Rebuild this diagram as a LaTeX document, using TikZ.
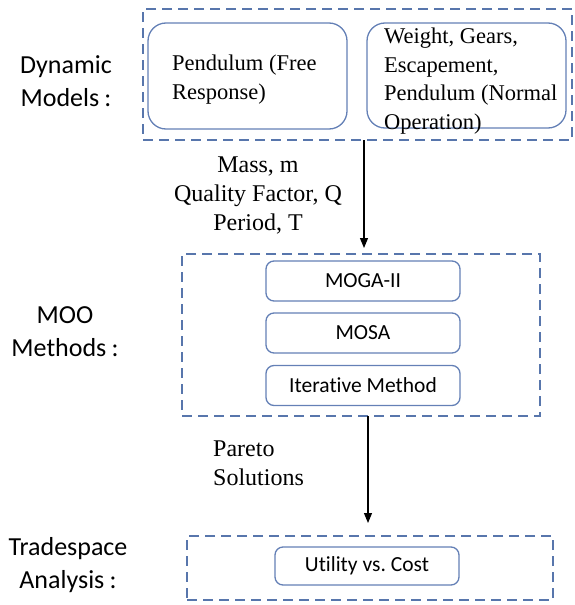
\documentclass[tikz,border=0pt]{standalone}
\usepackage{fontspec}
\setmainfont{Liberation Serif}
\newfontfamily\carl[Ligatures={NoCommon}]{Carlito}
\usetikzlibrary{arrows.meta}
\definecolor{grpc}{RGB}{88,118,172}
\definecolor{boxc}{RGB}{100,128,182}
\newcommand{\wcolon}{\hspace{0.2em}:\hspace{0.2em}}
\frenchspacing
\begin{document}
\begin{tikzpicture}[x=1pt,y=-1pt,
  grp/.style={draw=grpc, line width=1.3pt, dash pattern=on 10pt off 6pt, inner sep=0pt, outer sep=0pt},
  bigbox/.style={draw=boxc, line width=1.3pt, rounded corners=18pt, inner sep=0pt, outer sep=0pt},
  smallbox/.style={draw=boxc, line width=1.3pt, rounded corners=8pt, inner sep=0pt, outer sep=0pt,
     font=\carl\fontsize{21.5}{26}\selectfont},
  serifbox/.style={inner sep=0pt, align=left, font=\fontsize{22.5}{28.5}\selectfont, anchor=north west},
  arrlab/.style={inner sep=0pt, font=\fontsize{24}{29}\selectfont},
  sidelab/.style={inner sep=0pt, align=center, anchor=north, font=\carl\fontsize{26}{33}\selectfont},
  arr/.style={-{Triangle[width=8pt,length=10pt]}, line width=1.1pt, black}]
\useasboundingbox (0,0) rectangle (575,605);

% groups
\node[grp, minimum width=429pt, minimum height=131pt] (topgrp) at (357.5,74.5) {};
\node[grp, minimum width=358pt, minimum height=162pt] (midgrp) at (361,335) {};
\node[grp, minimum width=366pt, minimum height=64pt] (botgrp) at (370,568) {};

% top boxes
\node[bigbox, minimum width=199pt, minimum height=106pt] (box1) at (247.5,76) {};
\node[bigbox, minimum width=199pt, minimum height=105pt] (box2) at (466.5,75.5) {};
\node[serifbox] (box1t) at (172,55) {Pendulum (Free\\Response)};
\node[serifbox] (box2t) at (384,28) {Weight, Gears,\\Escapement,\\Pendulum (Normal\\Operation)};

% middle boxes
\node[smallbox, minimum width=194pt, minimum height=40pt] (moga) at (363,281) {MOGA-II};
\node[smallbox, minimum width=194pt, minimum height=40pt] (mosa) at (363,333) {MOSA};
\node[smallbox, minimum width=194pt, minimum height=40pt] (iter) at (363,385.5) {Iterative Method};

% bottom box
\node[smallbox, minimum width=184pt, minimum height=38pt] (util) at (367,566) {Utility vs. Cost};

% side labels
\node[sidelab] (lab1) at (66,55) {Dynamic\\Models\wcolon};
\node[sidelab] (lab2) at (65,306) {MOO\\Methods\wcolon};
\node[sidelab] (lab3) at (68,537) {Tradespace\\Analysis\wcolon};

% arrows
\coordinate (ax1) at (364,0);
\coordinate (ax2) at (368,0);
\draw[arr, shorten >=6pt] (topgrp.south -| ax1) -- (midgrp.north -| ax1);
\draw[arr, shorten >=13pt] (midgrp.south -| ax2) -- (botgrp.north -| ax2);

% arrow labels
\node[arrlab, align=center, anchor=north] (lab4) at (258,157) {Mass, m\\Quality Factor, Q\\Period, T};
\node[arrlab, align=left, anchor=north west] (lab5) at (213,441) {Pareto\\Solutions};
\end{tikzpicture}
\end{document}
